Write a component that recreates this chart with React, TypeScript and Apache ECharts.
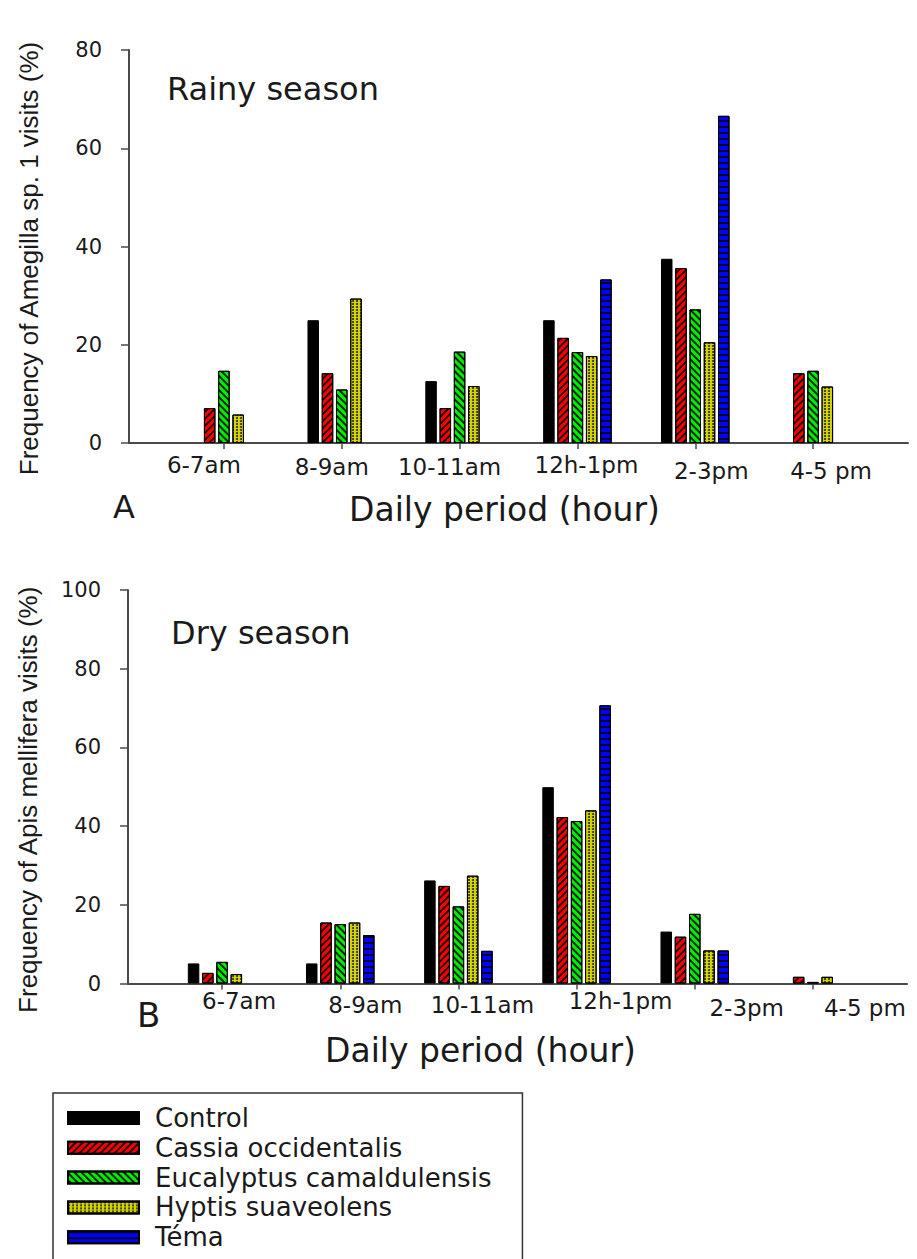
import React, { useEffect, useRef } from 'react';
import * as echarts from 'echarts';

// ---------- data ----------
const categories = ['6-7am', '8-9am', '10-11am', '12h-1pm', '2-3pm', '4-5 pm'];
const seriesNames = ['Control', 'Cassia occidentalis', 'Eucalyptus camaldulensis', 'Hyptis suaveolens', 'Téma'];

// Rainy season – Amegilla sp. 1 (%)
const rainyControl = [null, 25.0, 12.6, 25.0, 37.5, null];
const rainyCassia = [7.1, 14.2, 7.1, 21.4, 35.6, 14.2];
const rainyEucalyptus = [14.7, 10.9, 18.6, 18.5, 27.2, 14.7];
const rainyHyptis = [5.8, 29.4, 11.6, 17.7, 20.5, 11.5];
const rainyTema = [null, null, null, 33.3, 66.6, null];

// Dry season – Apis mellifera (%)
const dryControl = [5.1, 5.1, 26.2, 49.9, 13.2, null];
const dryCassia = [2.7, 15.5, 24.8, 42.3, 11.9, 1.7];
const dryEucalyptus = [5.5, 15.1, 19.6, 41.3, 17.7, 0.4];
const dryHyptis = [2.4, 15.5, 27.4, 44.0, 8.4, 1.7];
const dryTema = [null, 12.3, 8.3, 70.7, 8.4, null];

const rainyTicks = [0, 20, 40, 60, 80];
const dryTicks = [0, 20, 40, 60, 80, 100];

// ---------- styling / layout ----------
const FONT = 'DejaVu Sans';
const AXIS_COLOR = '#4a4a4a';
const TEXT_COLOR = '#1a1a1a';
const colors = ['#000000', '#ff0000', '#00ee00', '#d6d600', '#0000ff'];
const decals: any[] = [
  null,
  { symbol: 'rect', dashArrayX: [1, 0], dashArrayY: [1.5, 2.5], rotation: -Math.PI / 4, color: 'rgba(0,0,0,0.85)' },
  { symbol: 'rect', dashArrayX: [1, 0], dashArrayY: [1.5, 2.5], rotation: Math.PI / 4, color: 'rgba(0,0,0,0.85)' },
  { symbol: 'circle', symbolSize: 1, dashArrayX: [2, 1.2], dashArrayY: [2, 1], color: 'rgba(0,0,0,0.8)' },
  { symbol: 'rect', dashArrayX: [1, 0], dashArrayY: [1.2, 3.5], rotation: 0, color: 'rgba(0,0,0,0.85)' },
];
// label shifts [dx, dy] relative to the tick
const topLabelShift = [[-20, 0], [-10, 2], [-10, 2], [9, 0], [16, 6], [18, 6]];
const bottomLabelShift = [[17, 0], [25, 4], [24, 4], [44, 0], [52, 7], [52, 7]];

function richFor(shifts: number[][], fontSize: number) {
  const rich: any = {};
  shifts.forEach(([dx, dy], i) => {
    rich['l' + i] = {
      fontFamily: FONT,
      fontSize,
      color: TEXT_COLOR,
      padding: [dy, dx < 0 ? -2 * dx : 0, 0, dx > 0 ? 2 * dx : 0],
    };
  });
  return rich;
}

function buildBars(data: (number | null)[][], axisIndex: number) {
  return data.map((vals, i) => ({
    name: seriesNames[i],
    type: 'bar',
    xAxisIndex: axisIndex,
    yAxisIndex: axisIndex,
    data: vals.map((v) => (v == null ? '-' : v)),
    barWidth: 11.5,
    barGap: '24%',
    itemStyle: {
      color: colors[i],
      borderColor: '#000',
      borderWidth: 1,
      decal: decals[i] || undefined,
    },
  }));
}

function axisGridX(gridIndex: number, nameShift: number, nameGap: number) {
  return {
    type: 'value',
    gridIndex,
    min: 0,
    max: 1,
    axisLine: { show: true, lineStyle: { color: AXIS_COLOR, width: 2 } },
    axisTick: { show: false },
    axisLabel: { show: false },
    splitLine: { show: false },
    name: 'Daily period (hour)',
    nameLocation: 'middle',
    nameGap,
    nameTextStyle: {
      fontFamily: FONT,
      fontSize: 33,
      color: TEXT_COLOR,
      padding: [0, nameShift < 0 ? -2 * nameShift : 0, 0, nameShift > 0 ? 2 * nameShift : 0],
    },
  };
}

function catX(gridIndex: number, shifts: number[][], margin: number) {
  return {
    type: 'category',
    gridIndex,
    data: categories,
    axisLine: { show: false },
    axisTick: { show: true, alignWithLabel: true, length: 6, lineStyle: { color: AXIS_COLOR, width: 1.5 } },
    axisLabel: {
      interval: 0,
      margin,
      formatter: (v: string, i: number) => `{l${i}|${v}}`,
      rich: richFor(shifts, 23),
    },
    splitLine: { show: false },
  };
}

function valueY(gridIndex: number, ticks: number[], name: string, nameShiftDown: number) {
  return {
    type: 'value',
    gridIndex,
    min: ticks[0],
    max: ticks[ticks.length - 1],
    interval: ticks[1] - ticks[0],
    axisLine: { show: true, lineStyle: { color: AXIS_COLOR, width: 2 } },
    axisTick: { show: true, inside: false, length: 8, lineStyle: { color: AXIS_COLOR, width: 1.5 } },
    axisLabel: { margin: 27, fontFamily: FONT, fontSize: 21, color: TEXT_COLOR },
    splitLine: { show: false },
    name,
    nameLocation: 'middle',
    nameRotate: 90,
    nameGap: 87,
    nameTextStyle: {
      fontFamily: 'Liberation Sans',
      fontSize: 26,
      color: TEXT_COLOR,
      padding: [0, 2 * nameShiftDown, 0, 0],
    },
  };
}

function hiddenY(gridIndex: number, ticks: number[]) {
  return {
    type: 'value',
    gridIndex,
    min: ticks[0],
    max: ticks[ticks.length - 1],
    show: false,
    splitLine: { show: false },
  };
}

export default function App() {
  const ref = useRef<HTMLDivElement>(null);

  useEffect(() => {
    if (!ref.current) return;
    const chart = echarts.init(ref.current, undefined, { renderer: 'svg' });
    const option: any = {
      animation: false,
      backgroundColor: '#ffffff',
      textStyle: { fontFamily: FONT },
      title: [
        {
          text: 'Rainy season',
          left: 167,
          top: 73,
          padding: 0,
          textStyle: { fontFamily: FONT, fontSize: 32, fontWeight: 'normal', color: TEXT_COLOR },
        },
        {
          text: 'Dry season',
          left: 171,
          top: 617,
          padding: 0,
          textStyle: { fontFamily: FONT, fontSize: 32, fontWeight: 'normal', color: TEXT_COLOR },
        },
      ],
      graphic: [
        { type: 'text', left: 113, top: 491, style: { text: 'A', font: `32px "${FONT}"`, fill: TEXT_COLOR } },
        { type: 'text', left: 137, top: 998, style: { text: 'B', font: `34px "${FONT}"`, fill: TEXT_COLOR } },
      ],
      legend: {
        orient: 'vertical',
        left: 53,
        top: 1093,
        height: 220,
        padding: [12, 31, 30, 14],
        borderColor: '#333',
        borderWidth: 1.5,
        itemWidth: 71,
        itemHeight: 12,
        itemGap: 3.8,
        icon: 'rect',
        data: seriesNames,
        textStyle: { fontFamily: FONT, fontSize: 26, color: TEXT_COLOR, lineHeight: 26, padding: [0, 0, 0, 11] },
      },
      grid: [
        { left: 129, right: 9, top: 50, height: 393 },
        { left: 165, right: 45, top: 50, height: 393 },
        { left: 128, right: 10, top: 590, height: 393.5 },
        { left: 163, right: 45, top: 590, height: 393.5 },
      ],
      xAxis: [
        axisGridX(0, -14, 50),
        catX(1, topLabelShift, 10),
        axisGridX(2, -37, 50),
        catX(3, bottomLabelShift, 6),
      ],
      yAxis: [
        valueY(0, rainyTicks, 'Frequency of Amegilla sp. 1 visits (%)', 12),
        hiddenY(1, rainyTicks),
        valueY(2, dryTicks, 'Frequency of Apis mellifera visits (%)', 13),
        hiddenY(3, dryTicks),
      ],
      series: [
        ...buildBars([rainyControl, rainyCassia, rainyEucalyptus, rainyHyptis, rainyTema], 1),
        ...buildBars([dryControl, dryCassia, dryEucalyptus, dryHyptis, dryTema], 3),
      ],
    };
    chart.setOption(option);
    return () => chart.dispose();
  }, []);

  return (
    <div
      ref={ref}
      style={{ position: 'absolute', left: 0, top: 0, width: 917, height: 1259 }}
    />
  );
}
